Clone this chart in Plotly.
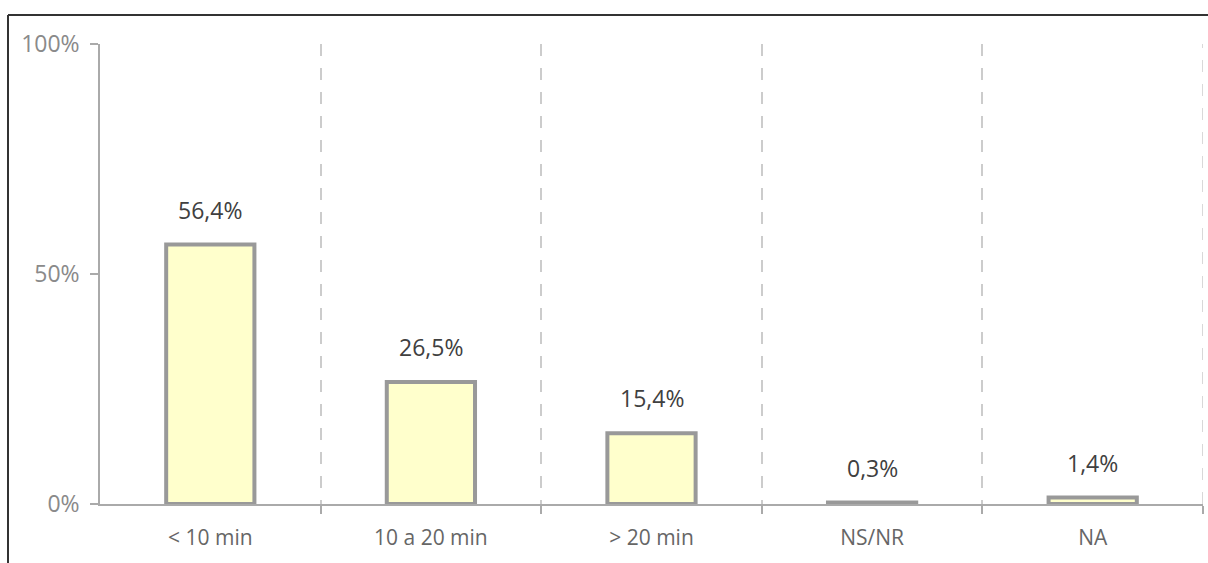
import plotly.graph_objects as go

categories = ["< 10 min", "10 a 20 min", "> 20 min", "NS/NR", "NA"]
values = [56.4, 26.5, 15.4, 0.3, 1.4]
value_labels = ["56,4%", "26,5%", "15,4%", "0,3%", "1,4%"]
y_ticks = [0, 50, 100]
y_tick_labels = ["0%", "50%", "100%"]

W, H = 1208, 563
L, R, T, B = 100, 5, 44, 59
pw, ph = W - L - R, H - T - B

xs = list(range(len(categories)))
boundaries = [i + 0.5 for i in xs]

fig = go.Figure()
fig.add_trace(go.Bar(
    x=xs, y=values, width=0.4,
    marker=dict(color="#FFFFCC", line=dict(color="#999999", width=4)),
    hoverinfo="skip",
))

for x, v, t in zip(xs, values, value_labels):
    fig.add_annotation(x=x, y=v, text=t, showarrow=False, yanchor="bottom",
                       yshift=17, font=dict(size=23, color="#404040",
                                            family="Open Sans"))

# last dashed boundary at the right edge
fig.add_shape(type="line", xref="x", yref="paper", x0=boundaries[-1],
              x1=boundaries[-1], y0=0, y1=1,
              line=dict(color="#cccccc", width=1.5, dash="12px,12px"))

# frame lines (top and left)
fx = (8 - L) / pw
fy = 1 + (T - 15) / ph
fig.add_shape(type="line", xref="paper", yref="paper", x0=fx, x1=(W - L) / pw,
              y0=fy, y1=fy, line=dict(color="#333333", width=2))
fig.add_shape(type="line", xref="paper", yref="paper", x0=fx, x1=fx,
              y0=fy, y1=-B / ph, line=dict(color="#333333", width=2))

fig.update_layout(
    width=W, height=H,
    margin=dict(l=L, r=R, t=T, b=B, pad=0),
    plot_bgcolor="white", paper_bgcolor="white",
    showlegend=False,
    font=dict(family="Open Sans"),
    xaxis=dict(
        range=[-0.5, 4.5],
        tickvals=xs, ticktext=categories,
        ticks="", showgrid=False, zeroline=False,
        showline=True, linecolor="#aaaaaa", linewidth=1.5,
        tickfont=dict(size=21, color="#666666"),
        ticklabelstandoff=14,
        minor=dict(tickvals=boundaries, ticks="outside", ticklen=8,
                   tickcolor="#aaaaaa", tickwidth=1.5,
                   showgrid=True, gridcolor="#cccccc", gridwidth=1.5,
                   griddash="12px,12px"),
        fixedrange=True,
    ),
    yaxis=dict(
        range=[0, 100],
        tickvals=y_ticks, ticktext=y_tick_labels,
        ticks="outside", ticklen=8, tickcolor="#aaaaaa", tickwidth=1.5,
        showgrid=False, zeroline=False,
        showline=True, linecolor="#aaaaaa", linewidth=1.5,
        tickfont=dict(size=23, color="#8a8a8a"),
        ticklabelstandoff=6,
        fixedrange=True,
    ),
)

fig.write_html("out.html")
